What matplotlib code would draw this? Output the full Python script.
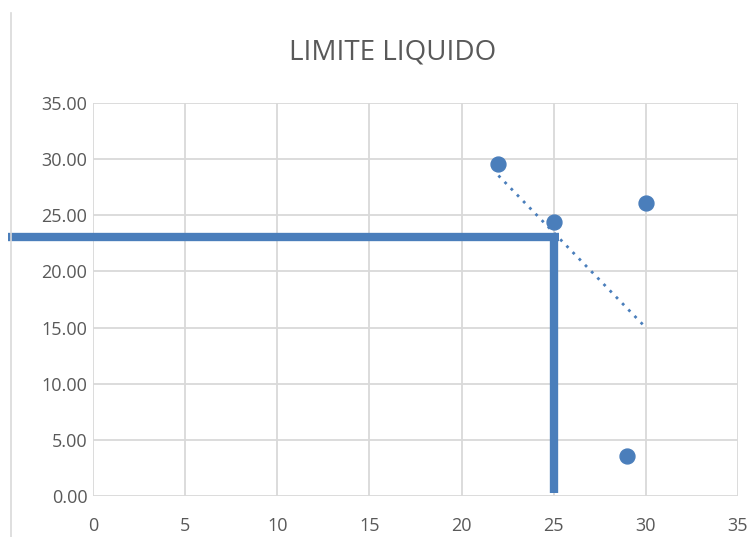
import numpy as np
import matplotlib
matplotlib.use("Agg")
import matplotlib.pyplot as plt
import matplotlib.patheffects as pe
from matplotlib.lines import Line2D

# Liquid limit test: blows (x) vs moisture content (y)
golpes = [22, 25, 30, 29]
humedad = [29.6, 24.4, 26.1, 3.6]

# reading of moisture at 25 blows
golpes_ref = 25
humedad_ref = 23.05

x_ticks = [0, 5, 10, 15, 20, 25, 30, 35]
y_ticks = [0, 5, 10, 15, 20, 25, 30, 35]

azul = "#4A7EBB"
gris_txt = "#595959"
gris_grid = "#D9D9D9"

plt.rcParams['font.family'] = ['Open Sans', 'DejaVu Sans']

fig = plt.figure(figsize=(7.5, 5.37), dpi=100)
ax = fig.add_axes([0.124, 0.0764, 0.860, 0.7316])

ax.set_xlim(0, 35)
ax.set_ylim(0, 35)
ax.set_xticks(x_ticks)
ax.set_yticks(y_ticks)
ax.set_yticklabels([f"{v:.2f}" for v in y_ticks])
ax.grid(True, color=gris_grid, linewidth=1.3)
ax.set_axisbelow(True)
for s in ax.spines.values():
    s.set_visible(False)
ax.tick_params(length=0, labelsize=13, colors=gris_txt)
ax.tick_params(axis="x", pad=15)
ax.tick_params(axis="y", pad=4)

# linear trend line
m, b = np.polyfit(golpes, humedad, 1)
xt = np.array([min(golpes), max(golpes)])
ax.plot(xt, m * xt + b, linestyle=(0, (1, 2.2)), color=azul, linewidth=2)

ax.scatter(golpes, humedad, s=115, color=azul, zorder=3)

# thick reference lines at 25 blows
sombra = [pe.SimplePatchShadow(offset=(1.5, -2), shadow_rgbFace="#888888", alpha=0.35), pe.Normal()]
ax.plot([-4.6, golpes_ref + 0.3], [humedad_ref, humedad_ref], color=azul, linewidth=6,
        solid_capstyle="butt", clip_on=False, path_effects=sombra, zorder=4)
ax.plot([golpes_ref, golpes_ref], [humedad_ref, 0.3], color=azul, linewidth=6,
        solid_capstyle="butt", clip_on=False, path_effects=sombra, zorder=4)

fig.text(0.524, 0.902, "LIMITE LIQUIDO", ha="center", va="center", fontsize=20, color=gris_txt)

# outer frame line on the left
fig.add_artist(Line2D([0.0147, 0.0147], [0.0, 0.975], color=gris_grid, linewidth=1.2))

fig.savefig("out.png", dpi=100)
